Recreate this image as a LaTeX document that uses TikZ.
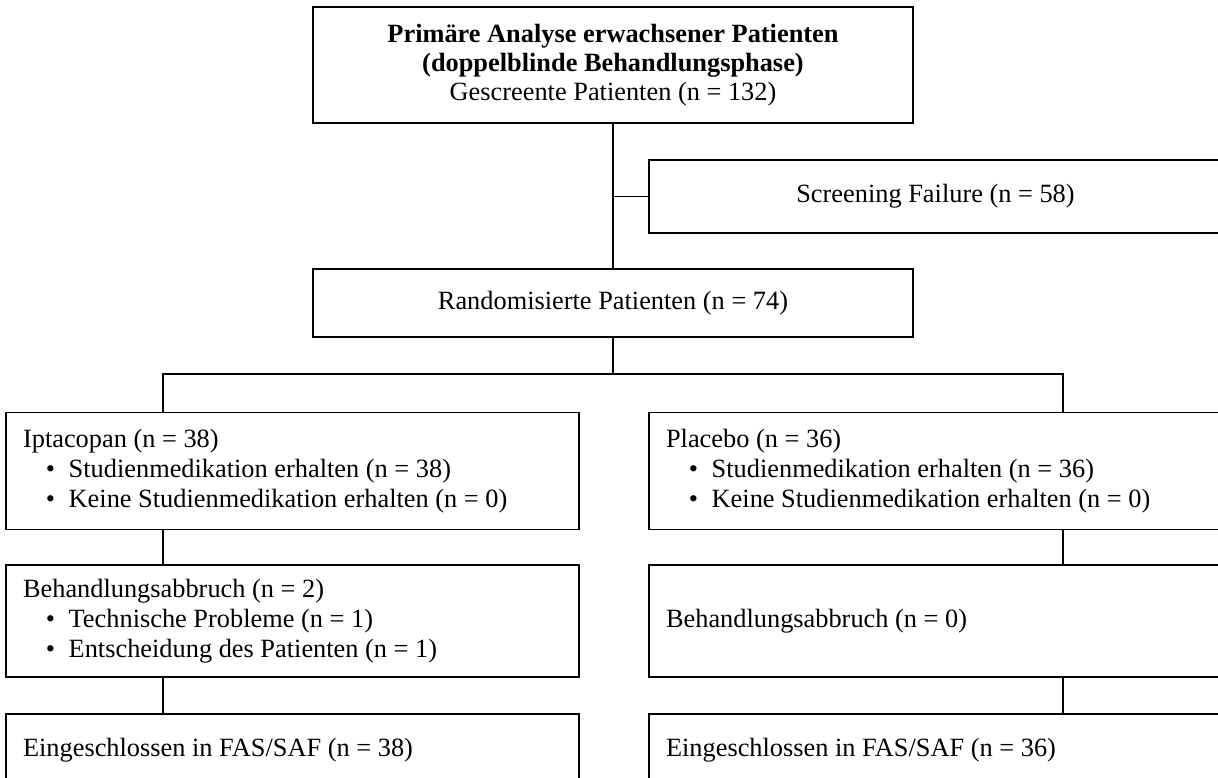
\documentclass[tikz,border=0pt]{standalone}
\usepackage{fontspec}
\setmainfont{Liberation Serif}
\usepackage{tikz}
\usetikzlibrary{positioning, calc}

\newcommand{\itm}[1]{\hspace*{13pt}\makebox[13pt][l]{\textbullet}#1}

\begin{document}
\begin{tikzpicture}[
        x=0.02cm, y=-0.02cm,
        box/.style={
            rectangle,
            draw=black,
            fill=white,
            line width=1.1pt,
            inner sep=0pt,
            font=\fontsize{15}{16.5}\selectfont
        },
        armbox/.style={
            box,
            minimum width=11.46cm,
            text width=10.78cm,
            align=flush left,
            font=\fontsize{15}{17}\selectfont
        },
        link/.style={line width=1.1pt}
    ]

    \useasboundingbox (0,0) rectangle (1218,778);
    \clip (0,0) rectangle (1218,778);

    \node[box, minimum width=12cm, minimum height=2.32cm, align=center] (screened) at (613,65)
        {\textbf{Primäre Analyse erwachsener Patienten}\\ \textbf{(doppelblinde Behandlungsphase)}\\ Gescreente Patienten (n = 132)};
    \node[box, minimum width=11.46cm, minimum height=1.46cm] (failure) at (935.5,196.5) {Screening Failure (n = 58)};
    \node[box, minimum width=12cm, minimum height=1.36cm] (randomized) at (613,303) {Randomisierte Patienten (n = 74)};

    \node[armbox, minimum height=2.34cm] (iptacopan) at (292.5,471)
        {Iptacopan (n = 38)\\ \itm{Studienmedikation erhalten (n = 38)}\\ \itm{Keine Studienmedikation erhalten (n = 0)}};
    \node[armbox, minimum height=2.34cm] (placebo) at (935.5,471)
        {Placebo (n = 36)\\ \itm{Studienmedikation erhalten (n = 36)}\\ \itm{Keine Studienmedikation erhalten (n = 0)}};

    \node[armbox, minimum height=2.24cm] (dropiptacopan) at (292.5,621)
        {Behandlungsabbruch (n = 2)\\ \itm{Technische Probleme (n = 1)}\\ \itm{Entscheidung des Patienten (n = 1)}};
    \node[armbox, minimum height=2.24cm] (dropplacebo) at (935.5,621) {Behandlungsabbruch (n = 0)};

    \node[armbox, minimum height=1.44cm] (fasiptacopan) at (292.5,750) {Eingeschlossen in FAS/SAF (n = 38)};
    \node[armbox, minimum height=1.44cm] (fasplacebo) at (935.5,750) {Eingeschlossen in FAS/SAF (n = 36)};

    % Verbindungen
    \coordinate (split) at (613,374);
    \coordinate (leftarm) at (163,374);
    \coordinate (rightarm) at (1063,374);

    \draw[link] (screened) -- (randomized);
    \draw[link] (screened.south |- failure.west) -- (failure.west);
    \draw[link] (randomized) -- (split);
    \draw[link] (leftarm |- iptacopan.north) -- (leftarm) -- (rightarm) -- (rightarm |- placebo.north);
    \draw[link] (leftarm |- iptacopan.south) -- (leftarm |- dropiptacopan.north);
    \draw[link] (rightarm |- placebo.south) -- (rightarm |- dropplacebo.north);
    \draw[link] (leftarm |- dropiptacopan.south) -- (leftarm |- fasiptacopan.north);
    \draw[link] (rightarm |- dropplacebo.south) -- (rightarm |- fasplacebo.north);

\end{tikzpicture}
\end{document}
